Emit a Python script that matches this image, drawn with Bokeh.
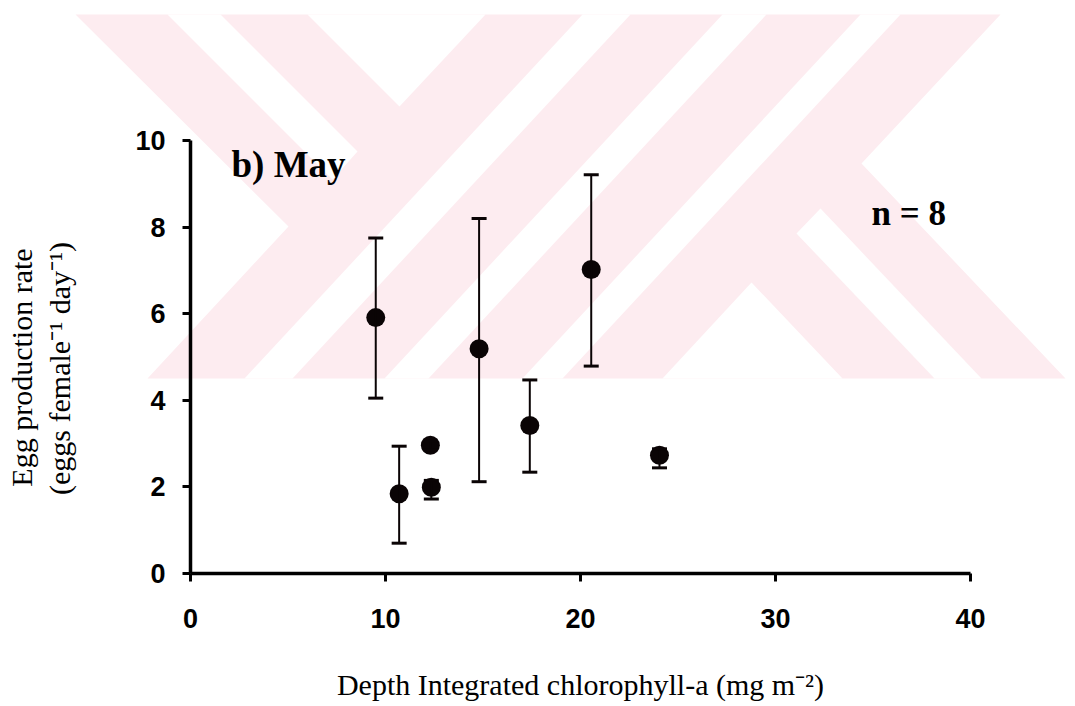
import math
from bokeh.plotting import figure
from bokeh.models import Range1d, FixedTicker, ColumnDataSource, Whisker, TeeHead
from bokeh.core.properties import value
from bokeh.embed import file_html
from bokeh.resources import INLINE

# ---------------- data ----------------
chlorophyll = [9.5, 10.7, 12.3, 12.35, 14.8, 17.4, 20.55, 24.05]
egg_rate = [5.91, 1.84, 2.96, 1.99, 5.19, 3.42, 7.02, 2.73]
err_lower = [4.05, 0.70, 2.86, 1.72, 2.12, 2.34, 4.79, 2.44]
err_upper = [7.75, 2.94, 3.06, 2.15, 8.20, 4.47, 9.21, 2.88]
x_ticks = [0, 10, 20, 30, 40]
y_ticks = [0, 2, 4, 6, 8, 10]
panel_label = "b) May"
n_label = "n = 8"
x_title = "Depth Integrated chlorophyll-a (mg m\u207b\u00b2)"
y_title_1 = "Egg production rate"
y_title_2 = "(eggs female\u207b\u00b9 day\u207b\u00b9)"

# ---------------- canvas geometry ----------------
W, H = 1075, 706
X0_PX, PX_PER_X = 190.0, 19.5      # x = 0 at canvas px 190
Y0_PX, PX_PER_Y = 573.0, 43.3      # y = 0 at canvas px 573


def X(px):
    return (px - X0_PX) / PX_PER_X


def Y(py):
    return (Y0_PX - py) / PX_PER_Y


p = figure(width=W, height=H,
           x_range=Range1d(X(0), X(W)), y_range=Range1d(Y(H), Y(0)),
           min_border=0, min_border_left=0, min_border_right=0,
           min_border_top=0, min_border_bottom=0,
           toolbar_location=None, output_backend="svg")
p.outline_line_color = None
p.grid.visible = False
p.background_fill_color = "white"
p.border_fill_color = "white"

# ---------------- background watermark (decoration) ----------------
PINK = "#fdecf0"
pink_shape = [(75, 14), (1000, 14), (861, 163), (1065, 378), (147, 378), (288, 226)]
white_shapes = [
    [(307, 14), (485, 14), (399, 106)],
    [(167, 14), (220, 14), (357, 151), (332, 179)],
    [(582, 14), (630, 14), (292, 378), (244, 378)],
    [(722, 14), (766, 14), (428, 378), (384, 378)],
    [(860, 14), (900, 14), (562, 378), (522, 378)],
    [(796, 233), (820, 208), (981, 378), (934, 378)],
    [(751, 282), (842, 378), (662, 378)],
]
p.patch([X(a) for a, b in pink_shape], [Y(b) for a, b in pink_shape],
        fill_color=PINK, line_color=None)
p.patches([[X(a) for a, b in s] for s in white_shapes],
          [[Y(b) for a, b in s] for s in white_shapes],
          fill_color="white", line_color=None)

# ---------------- data marks ----------------
src = ColumnDataSource(dict(x=chlorophyll, y=egg_rate, lower=err_lower, upper=err_upper))
wh = Whisker(source=src, base="x", lower="lower", upper="upper", dimension="height",
             line_color="#0a0405", line_width=2,
             upper_head=TeeHead(size=15, line_width=3, line_color="#0a0405"),
             lower_head=TeeHead(size=15, line_width=3, line_color="#0a0405"),
             level="glyph")
p.add_layout(wh)
p.scatter("x", "y", source=src, size=19, fill_color="#0a0405", line_color=None)

# ---------------- axes ----------------
for ax, bounds, ticks in ((p.xaxis[0], (0, 40), x_ticks), (p.yaxis[0], (0, 10), y_ticks)):
    ax.fixed_location = 0
    ax.bounds = bounds
    ax.ticker = FixedTicker(ticks=ticks)
    ax.axis_line_width = 3.5
    ax.axis_line_color = "black"
    ax.major_tick_line_width = 3
    ax.major_tick_line_color = "black"
    ax.major_tick_out = 8
    ax.major_tick_in = 0
    ax.minor_tick_out = 0
    ax.minor_tick_in = 0
    ax.major_label_text_font = "Liberation Sans"
    ax.major_label_text_font_style = "bold"
    ax.major_label_text_font_size = "27px"
    ax.major_label_text_color = "black"
p.xaxis[0].major_label_standoff = 27
p.yaxis[0].major_label_standoff = 17

# ---------------- texts ----------------
p.text(x=[X(231)], y=[Y(164)], text=[panel_label], text_font=value("Liberation Serif"),
       text_font_style="bold", text_font_size="37px", text_align="left",
       text_baseline="alphabetic", text_color="black")
p.text(x=[X(871)], y=[Y(213)], text=[n_label], text_font=value("Liberation Serif"),
       text_font_style="bold", text_font_size="35px", text_align="left",
       text_baseline="alphabetic", text_color="black")
p.text(x=[20], y=[Y(684)], text=[x_title], text_font=value("Liberation Serif"),
       text_font_size="30px", text_align="center", text_baseline="alphabetic",
       text_color="black")
p.text(x=[X(21), X(59)], y=[Y(367), Y(368)], text=[y_title_1, y_title_2],
       text_font=value("Liberation Serif"), text_font_size="30px", angle=math.pi / 2,
       text_align="center", text_baseline="alphabetic", text_color="black")

open("out.html", "w").write(file_html(p, INLINE))
